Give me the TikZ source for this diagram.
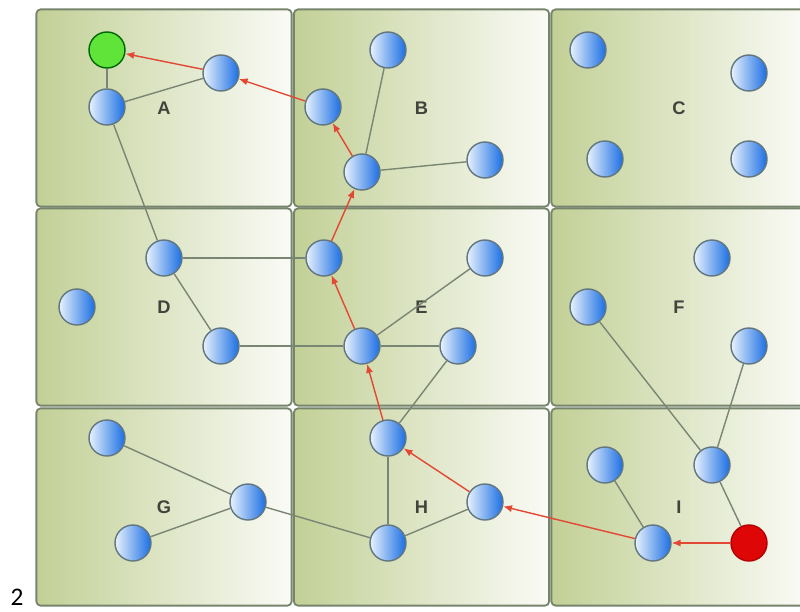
\documentclass[tikz,border=0pt]{standalone}
\usepackage{fontspec}
\setmainfont{Liberation Sans}
\newfontfamily\calfont{Carlito}
\definecolor{gridgreen}{RGB}{194,208,150}
\definecolor{gridwhite}{RGB}{250,251,246}
\definecolor{gridline}{RGB}{118,132,108}
\definecolor{balllight}{RGB}{232,242,252}
\definecolor{balldark}{RGB}{26,110,228}
\definecolor{ballrim}{RGB}{98,118,128}
\definecolor{linkgray}{RGB}{122,134,116}
\definecolor{pathred}{RGB}{226,72,52}
\definecolor{goalgreen}{RGB}{96,228,58}
\definecolor{startred}{RGB}{222,6,6}
\definecolor{labelgray}{RGB}{66,68,60}
\usetikzlibrary{arrows.meta}
\tikzset{
    cell/.style={
        draw=gridline, line width=1.3pt, rounded corners=3pt,
        left color=gridgreen, right color=gridwhite,
        minimum width=6.38cm, minimum height=4.93cm,
        font=\fontsize{13}{15}\selectfont\bfseries, text=labelgray
    },
    dot/.style={
        circle, line width=1pt, minimum size=0.9cm, inner sep=0pt
    },
    ball/.style={
        dot, draw=ballrim, left color=balllight, right color=balldark
    },
    goal/.style={dot, draw=green!40!black, fill=goalgreen},
    start/.style={dot, draw=red!70!black, fill=startred},
    link/.style={draw=linkgray, line width=1pt},
    hop/.style={
        -{Latex[length=2.2mm,width=1.8mm]}, draw=pathred, line width=1pt
    }
}

\begin{document}
\begin{tikzpicture}[x=0.025cm,y=-0.025cm]
\useasboundingbox (0,0) rectangle (800,611);
% grid of regions
\node[cell] (cA) at (164,108) {A};
\node[cell] (cB) at (421.5,108) {B};
\node[cell] (cC) at (679,108) {C};
\node[cell] (cD) at (164,307) {D};
\node[cell] (cE) at (421.5,307) {E};
\node[cell] (cF) at (679,307) {F};
\node[cell] (cG) at (164,507) {G};
\node[cell] (cH) at (421.5,507) {H};
\node[cell] (cI) at (679,507) {I};
% nodes
\node[goal] (goal) at (107,50) {};
\node[ball] (a1) at (107,107) {};
\node[ball] (a2) at (221,73) {};
\node[ball] (b1) at (388,50) {};
\node[ball] (b2) at (323,107) {};
\node[ball] (b3) at (362,172) {};
\node[ball] (b4) at (485,160) {};
\node[ball] (c1) at (588,50) {};
\node[ball] (c2) at (749,73) {};
\node[ball] (c3) at (605,159) {};
\node[ball] (c4) at (749,159) {};
\node[ball] (d1) at (164,258) {};
\node[ball] (d2) at (77,307) {};
\node[ball] (d3) at (221,346) {};
\node[ball] (e1) at (324,258) {};
\node[ball] (e2) at (485,258) {};
\node[ball] (e3) at (362,346) {};
\node[ball] (e4) at (458,346) {};
\node[ball] (f1) at (712,258) {};
\node[ball] (f2) at (588,307) {};
\node[ball] (f3) at (749,346) {};
\node[ball] (g1) at (107,438) {};
\node[ball] (g2) at (248,502) {};
\node[ball] (g3) at (133,543) {};
\node[ball] (h1) at (388,438) {};
\node[ball] (h2) at (485,502) {};
\node[ball] (h3) at (388,543) {};
\node[ball] (i1) at (605,465) {};
\node[ball] (i2) at (712,465) {};
\node[ball] (i3) at (653,543) {};
\node[start] (start) at (749,543) {};
% links
\draw[link] (goal)--(a1);
\draw[link] (a1)--(a2);
\draw[link] (a1)--(d1);
\draw[link] (b1)--(b3);
\draw[link] (b3)--(b4);
\draw[link] (d1)--(e1);
\draw[link] (d1)--(d3);
\draw[link] (d3)--(e3);
\draw[link] (e3)--(e2);
\draw[link] (e3)--(e4);
\draw[link] (e4)--(h1);
\draw[link] (f2)--(i2);
\draw[link] (f3)--(i2);
\draw[link] (i2)--(start);
\draw[link] (i1)--(i3);
\draw[link] (g1)--(g2);
\draw[link] (g3)--(g2);
\draw[link] (g2)--(h3);
\draw[link] (h1)--(h3);
\draw[link] (h3)--(h2);
% path found
\draw[hop] (start)--(i3);
\draw[hop] (i3)--(h2);
\draw[hop] (h2)--(h1);
\draw[hop] (h1)--(e3);
\draw[hop] (e3)--(e1);
\draw[hop] (e1)--(b3);
\draw[hop] (b3)--(b2);
\draw[hop] (b2)--(a2);
\draw[hop] (a2)--(goal);
\node[font=\calfont\fontsize{18}{20}\selectfont] (fig) at (17,597) {2};
\end{tikzpicture}
\end{document}
